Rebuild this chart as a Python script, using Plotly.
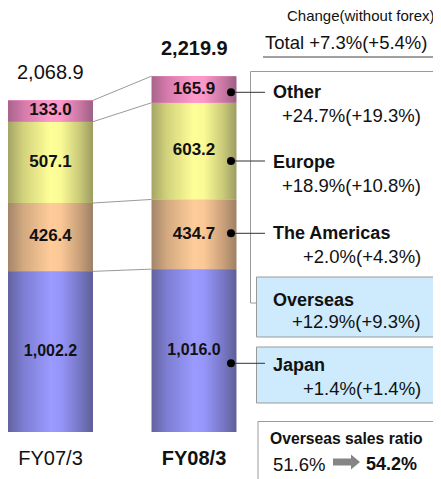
import plotly.graph_objects as go

# ---------------- data ----------------
years = ["FY07/3", "FY08/3"]
regions = ["Japan", "The Americas", "Europe", "Other"]
fy07 = [1002.2, 426.4, 507.1, 133.0]
fy08 = [1016.0, 434.7, 603.2, 165.9]
totals = [2068.9, 2219.9]
change_labels = ["+1.4%(+1.4%)", "+2.0%(+4.3%)", "+18.9%(+10.8%)", "+24.7%(+19.3%)"]
overseas_change = "+12.9%(+9.3%)"
total_change = "Total +7.3%(+5.4%)"
ratio_before = "51.6%"
ratio_after = "54.2%"

# ---------------- styling ----------------
FONT = "Arial, Liberation Sans, sans-serif"
OFF = 8  # page body margin
W, H, B = 441 - OFF, 479 - OFF, 47
PH = H - B
PX_PER_UNIT = 0.1603
BAR_W = 0.592
X_LEFT = -(50.5 - OFF) / 143.5
X_RIGHT = X_LEFT + W / 143.5
base_colors = ["#9a9aff", "#ffcc99", "#ffff99", "#ff99cc"]
scales = [
    [[0, "#62629f"], [0.18, "#7d7dd2"], [0.5, "#9a9aff"], [0.62, "#9696fa"], [0.85, "#7676c4"], [1, "#5e5e98"]],
    [[0, "#a2856a"], [0.18, "#d2a980"], [0.5, "#ffcc99"], [0.62, "#fac896"], [0.85, "#c89f79"], [1, "#9c8064"]],
    [[0, "#a4a466"], [0.18, "#d2d27c"], [0.5, "#ffff99"], [0.62, "#fafa96"], [0.85, "#c8c878"], [1, "#9c9c62"]],
    [[0, "#a6648a"], [0.18, "#d47aab"], [0.5, "#ff99cc"], [0.62, "#fa96c8"], [0.85, "#c877a2"], [1, "#9c6084"]],
]


def fx(px):
    return (px - OFF) / W


def fy(py):
    return (PH - (py - OFF)) / PH


fig = go.Figure()
series = [fy07, fy08]

# stacked bars (base)
for i, reg in enumerate(regions):
    fig.add_trace(go.Bar(x=[0, 1], y=[fy07[i], fy08[i]], name=reg, width=BAR_W,
                         marker=dict(color=base_colors[i], line=dict(width=0)),
                         hoverinfo="skip"))

# cylinder gradient overlay computed from the same data
for j, vals in enumerate(series):
    cum = 0
    for i, v in enumerate(vals):
        b, t = cum, cum + v
        cum = t
        x0, x1 = j - BAR_W / 2, j + BAR_W / 2
        fig.add_trace(go.Scatter(x=[x0, x1, x1, x0, x0], y=[b, b, t, t, b], mode="lines",
                                 fill="toself", line=dict(width=0),
                                 fillgradient=dict(type="horizontal", colorscale=scales[i]),
                                 hoverinfo="skip", showlegend=False))

# connecting lines between stacks
c07 = 0
c08 = 0
for i in range(len(regions)):
    c07 += fy07[i]
    c08 += fy08[i]
    fig.add_trace(go.Scatter(x=[BAR_W / 2, 1 - BAR_W / 2], y=[c07, c08], mode="lines",
                             line=dict(color="#9a9a9a", width=1), hoverinfo="skip", showlegend=False))

# segment value labels
lx, ly, lt, ls = [], [], [], []
for j, vals in enumerate(series):
    cum = 0
    for i, v in enumerate(vals):
        lx.append(j)
        ly.append(cum + v / 2)
        lt.append(f"<b>{v:,.1f}</b>")
        ls.append(16 if i == 0 else 17)
        cum += v
fig.add_trace(go.Scatter(x=lx, y=ly, mode="text", text=lt,
                         textfont=dict(family=FONT, size=ls, color="#111"),
                         hoverinfo="skip", showlegend=False))

annotations = []
# totals above bars
for j, tot in enumerate(totals):
    txt = f"{tot:,.1f}" if j == 0 else f"<b>{tot:,.1f}</b>"
    annotations.append(dict(x=j, y=tot, xref="x", yref="y", text=txt, showarrow=False,
                            yanchor="middle", yshift=28, font=dict(family=FONT, size=20, color="#111")))


def ann(text, x, y, size, anchor="left", color="#111"):
    annotations.append(dict(x=fx(x), y=fy(y), xref="paper", yref="paper", text=text, showarrow=False,
                            xanchor=anchor, yanchor="middle", font=dict(family=FONT, size=size, color=color)))


ann("Change(without forex)", 437, 16, 15, "right")
ann(total_change, 263, 43, 18.5)

label_y = {"Other": (92, 115), "Europe": (161.5, 185), "The Americas": (233, 256.5), "Japan": (365, 388)}
for i, reg in enumerate(regions):
    y1, y2 = label_y[reg]
    ann(f"<b>{reg}</b>", 271, y1, 18)
    ann(change_labels[i], 423, y2, 18.5, "right")
ann("<b>Overseas</b>", 271, 300, 18)
ann(overseas_change, 423, 321.5, 18.5, "right")
ann("<b>Overseas sales ratio</b>", 346.5, 438, 15.7, "center")
ann(ratio_before, 327, 464, 18.5, "right")
ann(f"<b>{ratio_after}</b>", 364, 464, 18)

shapes = []
GRAY = "#9a9a9a"


def rect(x0, y0, x1, y1, fill="rgba(0,0,0,0)", line=GRAY, w=1):
    shapes.append(dict(type="rect", xref="paper", yref="paper", x0=fx(x0), x1=fx(x1), y0=fy(y0), y1=fy(y1),
                       fillcolor=fill, line=dict(color=line, width=w), layer="above"))


# big open panel
shapes.append(dict(type="path", xref="paper", yref="paper",
                   path=f"M {fx(445)} {fy(71.5)} L {fx(250.5)} {fy(71.5)} L {fx(250.5)} {fy(303)} L {fx(445)} {fy(303)}",
                   line=dict(color=GRAY, width=1), layer="above"))
rect(256.5, 277, 438, 337, fill="#cdebfc")
rect(256.5, 347, 438, 403, fill="#cdebfc")
rect(258, 421.5, 434, 490, fill="white")
# underline under total
shapes.append(dict(type="line", xref="paper", yref="paper", x0=fx(263), x1=fx(438), y0=fy(57), y1=fy(57),
                   line=dict(color="#808080", width=1.5)))
# connectors with dots
for yy in [92.3, 161, 233.3, 363.3]:
    shapes.append(dict(type="line", xref="paper", yref="paper", x0=fx(231), x1=fx(265), y0=fy(yy), y1=fy(yy),
                       line=dict(color="#333", width=1), layer="above"))
    shapes.append(dict(type="circle", xref="paper", yref="paper", x0=fx(227), x1=fx(235), y0=fy(yy - 4),
                       y1=fy(yy + 4), fillcolor="black", line=dict(width=0), layer="above"))
# arrow
shapes.append(dict(type="path", xref="paper", yref="paper",
                   path=(f"M {fx(333)} {fy(458.5)} L {fx(351)} {fy(458.5)} L {fx(351)} {fy(454.5)} "
                         f"L {fx(360)} {fy(462)} L {fx(351)} {fy(469.5)} L {fx(351)} {fy(465.5)} "
                         f"L {fx(333)} {fy(465.5)} Z"),
                   fillcolor="#858585", line=dict(width=0), layer="above"))

fig.update_layout(
    width=W, height=H, margin=dict(l=0, r=0, t=0, b=B),
    barmode="stack", showlegend=False,
    plot_bgcolor="white", paper_bgcolor="white",
    xaxis=dict(range=[X_LEFT, X_RIGHT], tickvals=[0, 1], ticktext=["FY07/3", "<b>FY08/3</b>"],
               showgrid=False, zeroline=False, showline=False, ticks="", ticklabelstandoff=12,
               tickfont=dict(family=FONT, size=20, color="#111"), fixedrange=True),
    yaxis=dict(range=[0, PH / PX_PER_UNIT], visible=False, fixedrange=True),
    annotations=annotations, shapes=shapes,
)

fig.write_html("out.html")
